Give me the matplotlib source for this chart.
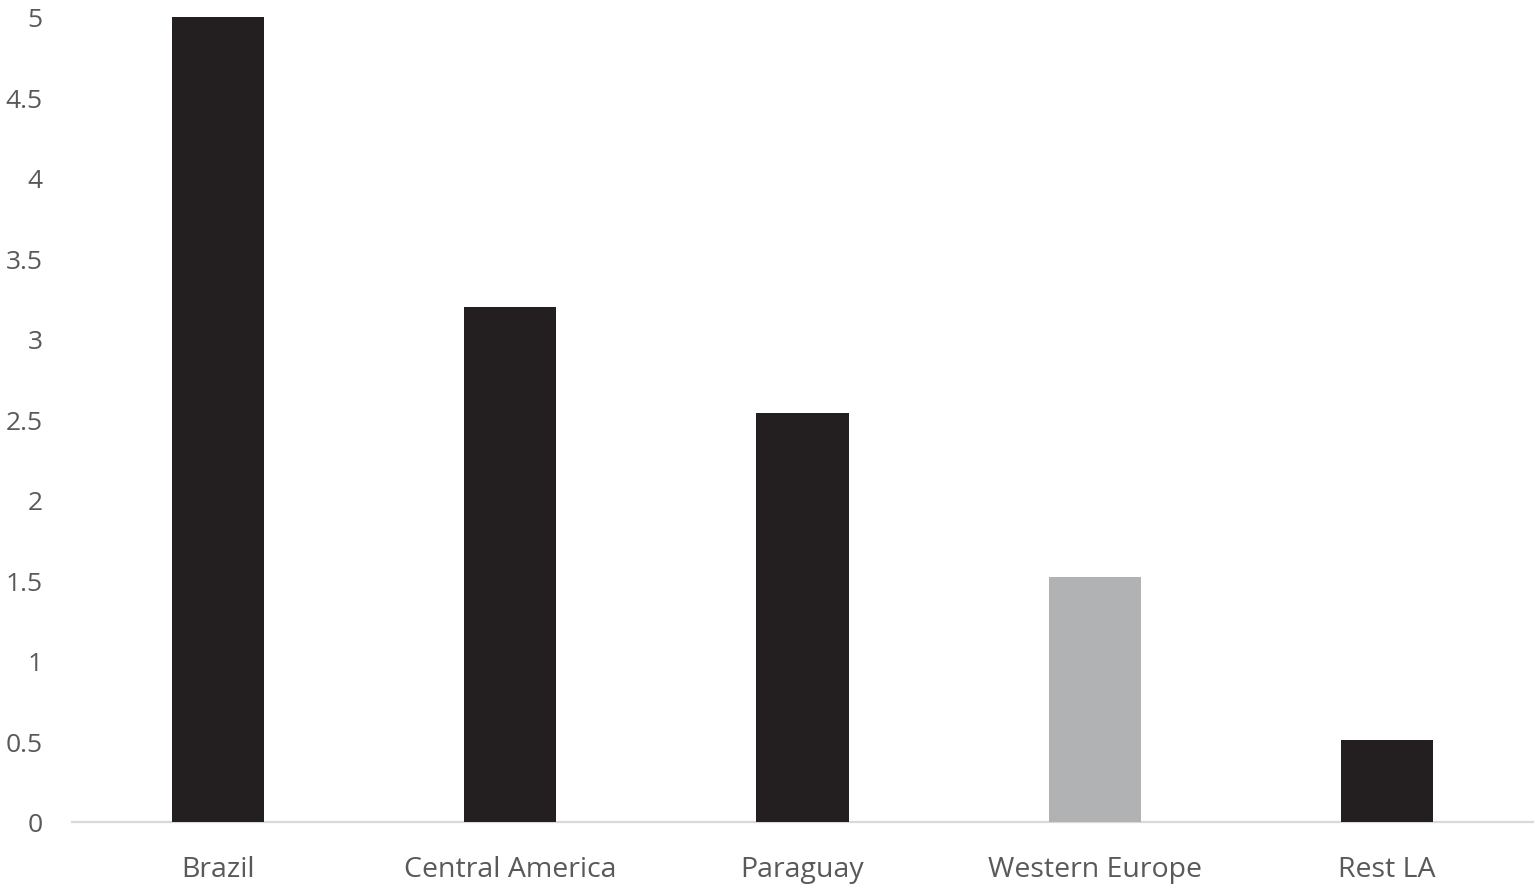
import matplotlib
matplotlib.use("Agg")
import matplotlib.pyplot as plt

categories = ["Brazil", "Central America", "Paraguay", "Western Europe", "Rest LA"]
values = [5.0, 3.2, 2.54, 1.52, 0.51]
colors = ["#231F20", "#231F20", "#231F20", "#B1B2B4", "#231F20"]
yticks = [0, 0.5, 1, 1.5, 2, 2.5, 3, 3.5, 4, 4.5, 5]
ytick_labels = ["0", "0.5", "1", "1.5", "2", "2.5", "3", "3.5", "4", "4.5", "5"]

plt.rcParams['font.family'] = ['Open Sans', 'DejaVu Sans']

W, H, DPI = 1537, 887, 100
fig = plt.figure(figsize=(W / DPI, H / DPI), dpi=DPI)
ax = fig.add_axes([72 / W, 1 - 823 / H, (1533 - 72) / W, (823 - 18) / H])

x = list(range(len(categories)))
ax.bar(x, values, width=0.315, color=colors, zorder=2)

ax.set_xlim(-0.5, len(categories) - 0.5)
ax.set_ylim(0, 5)
ax.set_yticks(yticks)
ax.set_yticklabels(ytick_labels)
ax.set_xticks(x)
ax.set_xticklabels(categories)

for s in ["left", "right", "top"]:
    ax.spines[s].set_visible(False)
ax.spines["bottom"].set_color("#D9D9D9")
ax.spines["bottom"].set_linewidth(1.6)
ax.spines["bottom"].set_zorder(1)

ax.tick_params(axis="both", length=0, labelcolor="#595959")
ax.tick_params(axis="y", pad=21, labelsize=19)
ax.tick_params(axis="x", pad=23.5, labelsize=20.5)

fig.savefig("out.png", dpi=DPI)
